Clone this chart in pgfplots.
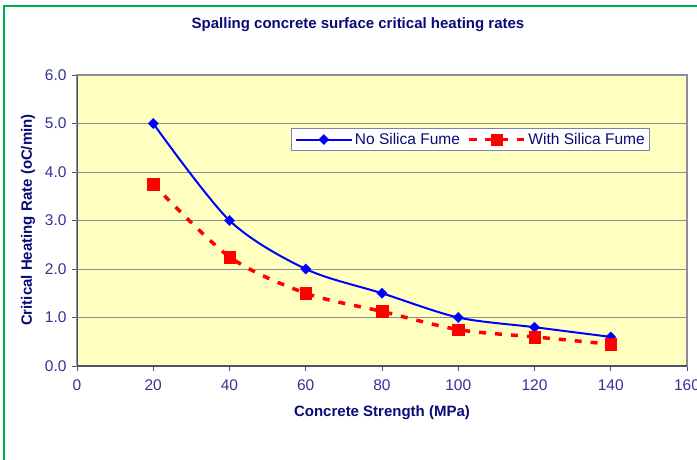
\documentclass[border=0pt]{standalone}
\usepackage{fontspec}
\setmainfont{Liberation Sans}
\usepackage{pgfplots}
\pgfplotsset{compat=1.18}
\definecolor{navy}{RGB}{10,10,120}
\definecolor{ticknavy}{RGB}{51,51,150}
\definecolor{plotbg}{RGB}{255,255,192}
\definecolor{frameg}{RGB}{0,176,80}
\definecolor{gridg}{RGB}{140,140,155}
\definecolor{axdark}{RGB}{80,80,110}
\definecolor{legbd}{RGB}{128,128,170}
\begin{document}
\begin{tikzpicture}[x=1pt,y=1pt]
\fill[white] (0,0) rectangle (697,459);
\draw[frameg,line width=2.5pt] (4,453) rectangle (730,-30);
\node[font=\fontsize{15}{18}\selectfont\bfseries,text=navy] at (358,434) {Spalling concrete surface critical heating rates};
\node[font=\fontsize{15}{18}\selectfont\bfseries,text=navy,rotate=90] at (28,239) {Critical Heating Rate (oC/min)};
\node[font=\fontsize{15}{18}\selectfont\bfseries,text=navy] at (382,46) {Concrete Strength (MPa)};
\begin{axis}[at={(77pt,93pt)},anchor=south west,width=610pt,height=291pt,scale only axis,
  xmin=0,xmax=160,ymin=0,ymax=6,
  xtick={0,20,...,160}, ytick={0,1,...,6},
  tick pos=left, tick align=outside, major tick length=5pt,
  tick style={axdark,line width=1pt},
  axis background/.style={fill=plotbg},
  axis line style={draw=gridg,line width=1.5pt},
  ymajorgrids, major grid style={gridg,line width=1pt},
  /pgf/number format/assume math mode=true,
  ticklabel style={font=\fontsize{15.5}{18}\selectfont,text=ticknavy},
  xticklabel style={yshift=-5pt},
  yticklabel style={xshift=-2pt,/pgf/number format/.cd,fixed,fixed zerofill,precision=1},
  legend style={at={(axis cs:103.3,4.67)},anchor=center,legend columns=2,
    draw=legbd,line width=1pt,fill=white,font=\fontsize{15.5}{18.5}\selectfont,text=navy,
    inner ysep=2.5pt,inner xsep=3pt,
    /tikz/every even column/.append style={column sep=5pt}},
  legend image code/.code={\draw[mark repeat=2,mark phase=2,#1] plot coordinates {(0pt,0pt) (28pt,0pt) (56pt,0pt)};},
]
\addplot[blue,line width=2pt,smooth,mark=square*,mark size=3.6pt,mark options={solid,rotate=45,line width=0.3pt}]
 coordinates {(20,5.0)(40,3.0)(60,2.0)(80,1.5)(100,1.0)(120,0.8)(140,0.6)};
\addlegendentry{No Silica Fume}
\addplot[red,line width=3.5pt,smooth,dash pattern=on 7pt off 9pt,mark=square*,mark size=5.8pt,mark options={solid,line width=0.3pt}]
 coordinates {(20,3.75)(40,2.25)(60,1.5)(80,1.125)(100,0.75)(120,0.6)(140,0.45)};
\addlegendentry{With Silica Fume}
\draw[axdark,line width=1.5pt] (rel axis cs:0,1) -- (rel axis cs:0,0) -- (rel axis cs:1,0);
\draw[gridg!80!black,line width=2pt] (rel axis cs:1,0) ++(1.5pt,0) -- ++(0,291pt);
\end{axis}
\pgfresetboundingbox
\useasboundingbox (0,0) rectangle (697,459);
\end{tikzpicture}
\end{document}
